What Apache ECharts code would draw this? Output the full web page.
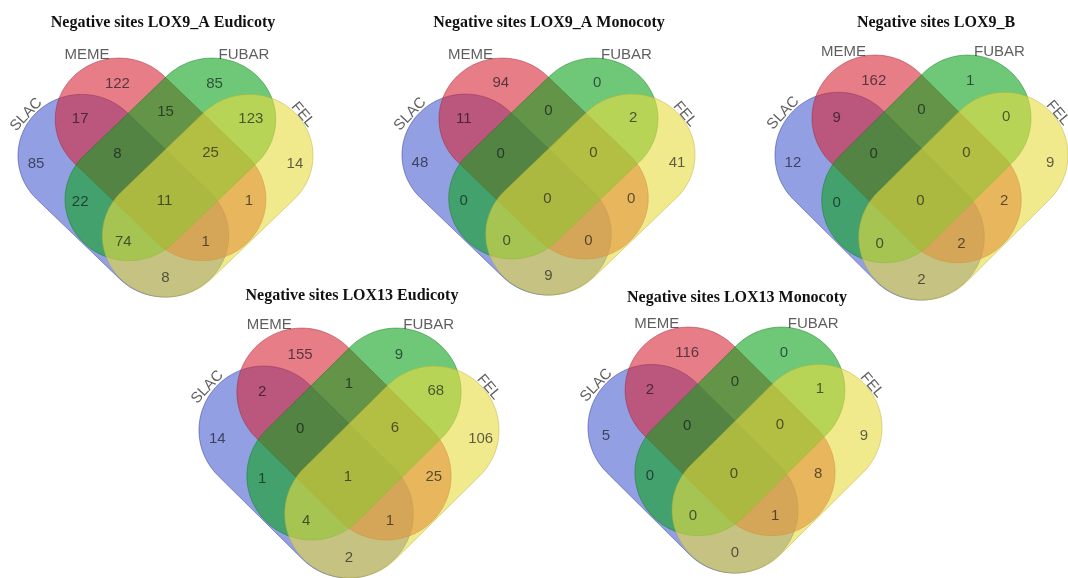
<!DOCTYPE html>
<html>
<head>
<meta charset="utf-8">
<script src="https://cdn.jsdelivr.net/npm/echarts@6/dist/echarts.min.js"></script>
<style>
  html, body { margin: 0; padding: 0; background: #ffffff; }
  #chart { width: 1068px; height: 578px; }
</style>
</head>
<body>
<div id="chart"></div>
<script>
// ---- data ----
const setNames = ['SLAC', 'MEME', 'FUBAR', 'FEL'];

// region order used by every count list below
const regionNames = [
  'SLAC', 'MEME', 'FUBAR', 'FEL',
  'SLAC∩MEME', 'MEME∩FUBAR', 'FUBAR∩FEL',
  'SLAC∩MEME∩FUBAR', 'MEME∩FUBAR∩FEL',
  'SLAC∩FUBAR', 'SLAC∩MEME∩FUBAR∩FEL', 'MEME∩FEL',
  'SLAC∩FUBAR∩FEL', 'SLAC∩MEME∩FEL',
  'SLAC∩FEL'
];

const panelTitles = [
  'Negative sites LOX9_A Eudicoty',
  'Negative sites LOX9_A Monocoty',
  'Negative sites LOX9_B',
  'Negative sites LOX13 Eudicoty',
  'Negative sites LOX13 Monocoty'
];

const countsLox9AEudicoty = [85, 122, 85, 14, 17, 15, 123, 8, 25, 22, 11, 1, 74, 1, 8];
const countsLox9AMonocoty = [48, 94, 0, 41, 11, 0, 2, 0, 0, 0, 0, 0, 0, 0, 9];
const countsLox9B         = [12, 162, 1, 9, 9, 0, 0, 0, 0, 0, 0, 2, 0, 2, 2];
const countsLox13Eudicoty = [14, 155, 9, 106, 2, 1, 68, 0, 6, 1, 1, 25, 4, 1, 2];
const countsLox13Monocoty = [5, 116, 0, 9, 2, 0, 1, 0, 0, 0, 0, 8, 0, 1, 0];

const panelCounts = [countsLox9AEudicoty, countsLox9AMonocoty, countsLox9B, countsLox13Eudicoty, countsLox13Monocoty];

// ---- layout (diagram space: x to the right, y downward) ----
const X_RANGE = [-150.4, 150.4];
const Y_RANGE = [-145, 108.4];

// pixel box [left, top, right, bottom] of each diagram
const PANEL_BOXES = [
  [18, 58, 313, 297],
  [402, 58, 695, 295],
  [775, 55, 1081, 300],
  [199, 328, 499, 578],
  [588, 327, 882, 573]
];
const TITLE_POS = [[163, 23], [549, 23], [936, 23], [352, 296], [737, 298]];

// stadium-shaped set outlines
const HALF_LEN = 60, RADIUS = 65;
const SHAPES = [
  { c: [-43, 1],    dir: [1, 1] },
  { c: [-5, -37.5], dir: [1, 1] },
  { c: [5, -37.5],  dir: [-1, 1] },
  { c: [43, 1],     dir: [-1, 1] }
];
const FILLS   = ['rgba(80,100,210,0.62)', 'rgba(213,38,55,0.6)', 'rgba(13,163,30,0.6)', 'rgba(232,220,65,0.6)'];
const STROKES = ['rgba(55,70,160,0.55)', 'rgba(160,30,45,0.45)', 'rgba(10,120,25,0.45)', 'rgba(180,170,50,0.45)'];

const REGION_POS = [
  [-132, -33], [-49, -118], [50, -118], [132, -33],
  [-87, -80], [0, -88], [87, -81],
  [-49, -43], [46, -44],
  [-87, 8], [-1, 6], [85, 6],
  [-43, 50], [41, 50],
  [0, 88]
];
const SET_LABEL_POS = [[-142, -85], [-80, -148], [80, -148], [140, -85]];
const SET_LABEL_ROT = [47, 0, 0, -50];

function stadium(shape) {
  const len = Math.hypot(shape.dir[0], shape.dir[1]);
  const ax = shape.dir[0] / len, ay = shape.dir[1] / len;
  const phi = Math.atan2(ay, ax);
  const e1 = [shape.c[0] - HALF_LEN * ax, shape.c[1] - HALF_LEN * ay];
  const e2 = [shape.c[0] + HALF_LEN * ax, shape.c[1] + HALF_LEN * ay];
  const pts = [];
  const n = 48;
  for (let i = 0; i <= n; i++) {
    const a = phi - Math.PI / 2 + Math.PI * i / n;
    pts.push([e2[0] + RADIUS * Math.cos(a), e2[1] + RADIUS * Math.sin(a)]);
  }
  for (let i = 0; i <= n; i++) {
    const a = phi + Math.PI / 2 + Math.PI * i / n;
    pts.push([e1[0] + RADIUS * Math.cos(a), e1[1] + RADIUS * Math.sin(a)]);
  }
  return pts;
}

const chart = echarts.init(document.getElementById('chart'), null, { renderer: 'canvas' });

const grids = [], xAxes = [], yAxes = [], series = [], titles = [];

PANEL_BOXES.forEach((b, p) => {
  grids.push({ left: b[0], top: b[1], width: b[2] - b[0], height: b[3] - b[1], containLabel: false });
  xAxes.push({ gridIndex: p, type: 'value', min: X_RANGE[0], max: X_RANGE[1], show: false });
  yAxes.push({ gridIndex: p, type: 'value', min: Y_RANGE[0], max: Y_RANGE[1], inverse: true, show: false });

  titles.push({
    text: panelTitles[p],
    left: TITLE_POS[p][0],
    top: TITLE_POS[p][1] - 8,
    textAlign: 'center',
    padding: 0,
    textStyle: { fontFamily: 'Liberation Serif', fontWeight: 'bold', fontSize: 16, color: '#111111' }
  });

  series.push({
    type: 'custom',
    name: 'sets ' + p,
    xAxisIndex: p, yAxisIndex: p,
    clip: false,
    silent: true,
    z: 1,
    data: setNames.map((name, i) => ({ name: name, value: [i] })),
    renderItem: function (params, api) {
      const k = api.value(0);
      const pts = stadium(SHAPES[k]).map(pt => api.coord(pt));
      return {
        type: 'polygon',
        shape: { points: pts },
        style: { fill: FILLS[k], stroke: STROKES[k], lineWidth: 1 }
      };
    }
  });

  series.push({
    type: 'scatter',
    name: 'regions ' + p,
    xAxisIndex: p, yAxisIndex: p,
    clip: false,
    silent: true,
    z: 3,
    symbolSize: 1,
    itemStyle: { color: 'rgba(0,0,0,0)' },
    data: regionNames.map((name, i) => ({ name: name, value: [REGION_POS[i][0], REGION_POS[i][1], panelCounts[p][i]] })),
    label: {
      show: true,
      position: 'inside',
      formatter: d => String(d.value[2]),
      fontFamily: 'Liberation Sans',
      fontSize: 15,
      color: 'rgba(10,12,20,0.8)'
    }
  });

  series.push({
    type: 'scatter',
    name: 'set names ' + p,
    xAxisIndex: p, yAxisIndex: p,
    clip: false,
    silent: true,
    z: 3,
    symbolSize: 1,
    itemStyle: { color: 'rgba(0,0,0,0)' },
    data: setNames.map((name, i) => ({
      name: name,
      value: SET_LABEL_POS[i],
      label: { rotate: SET_LABEL_ROT[i] }
    })),
    label: {
      show: true,
      position: 'inside',
      formatter: d => d.name,
      fontFamily: 'Liberation Sans',
      fontSize: 15,
      color: '#363636'
    }
  });
});

chart.setOption({
  animation: false,
  backgroundColor: '#ffffff',
  title: titles,
  grid: grids,
  xAxis: xAxes,
  yAxis: yAxes,
  series: series
});
</script>
</body>
</html>
